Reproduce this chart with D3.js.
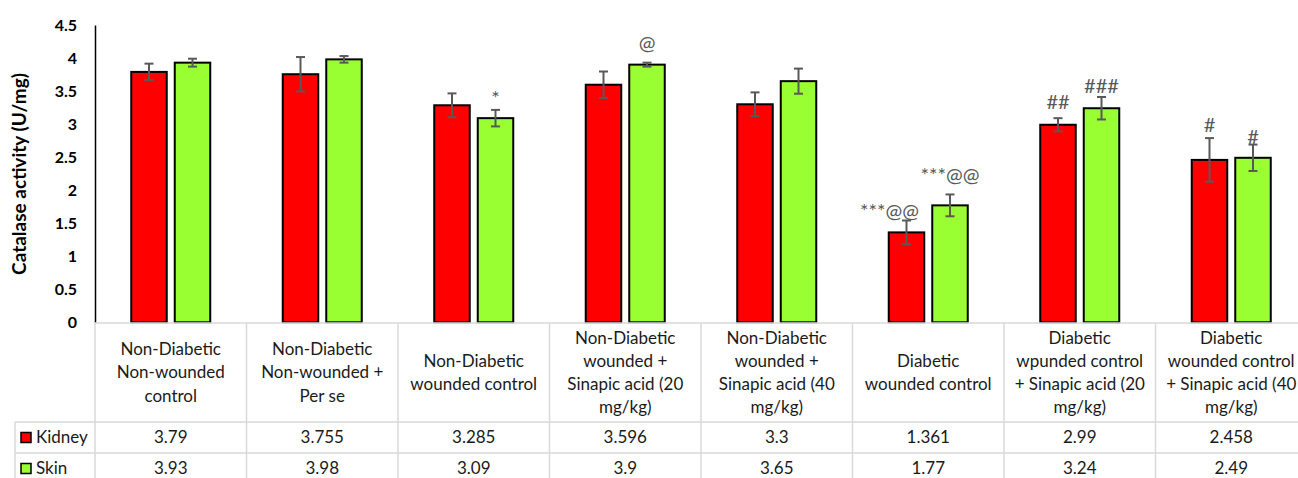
<!DOCTYPE html>
<html>
<head>
<meta charset="utf-8">
<script src="https://cdn.jsdelivr.net/npm/d3@7"></script>
<style>
  html, body { margin: 0; padding: 0; background: #fff; }
  svg { display: block; font-family: Lato, "Open Sans", sans-serif; }
</style>
</head>
<body>
<svg id="chart" width="1298" height="478"></svg>
<script>
// Treatment groups (header lines of the data table)
const categories = [
  ["Non-Diabetic", "Non-wounded", "control"],
  ["Non-Diabetic", "Non-wounded +", "Per se"],
  ["Non-Diabetic", "wounded control"],
  ["Non-Diabetic", "wounded +", "Sinapic acid (20", "mg/kg)"],
  ["Non-Diabetic", "wounded +", "Sinapic acid (40", "mg/kg)"],
  ["Diabetic", "wounded control"],
  ["Diabetic", "wpunded control", "+ Sinapic acid (20", "mg/kg)"],
  ["Diabetic", "wounded control", "+ Sinapic acid (40", "mg/kg)"]
];
const seriesNames = ["Kidney", "Skin"];
const kidney = [3.79, 3.755, 3.285, 3.596, 3.3, 1.361, 2.99, 2.458];
const skin = [3.93, 3.98, 3.09, 3.9, 3.65, 1.77, 3.24, 2.49];
const kidneyErr = [0.125, 0.26, 0.18, 0.2, 0.18, 0.18, 0.1, 0.33];
const skinErr = [0.06, 0.05, 0.125, 0.03, 0.19, 0.165, 0.17, 0.2];
const kidneySig = ["", "", "", "", "", "***@@", "##", "#"];
const skinSig = ["", "", "*", "@", "", "***@@", "###", "#"];
const yTicks = [0, 0.5, 1, 1.5, 2, 2.5, 3, 3.5, 4, 4.5];
const yTitle = "Catalase activity (U/mg)";

// Layout / styling
const colors = { Kidney: "#ff0000", Skin: "#99ff33" };
// small hand placements of the significance marks, [dx, dy] in px
const kidneySigNudge = [[0,0],[0,0],[0,0],[0,0],[0,0],[-17,6],[0,-1],[0,2]];
const skinSigNudge   = [[0,0],[0,0],[0,3],[0,-5],[0,0],[0,-4],[0,4],[0,7]];

const svg = d3.select("#chart");
const W = 1298, H = 478;
const plotLeft = 95, colW = 151.5;
const yTop = 25, yBottom = 322.3;
const gridColor = "#d9d9d9";

svg.append("rect").attr("width", W).attr("height", H).attr("fill", "#fff");

const idx = d3.range(categories.length);
const x = d3.scaleBand().domain(idx).range([plotLeft, plotLeft + colW * categories.length]).padding(0);
const xs = d3.scaleBand().domain(seriesNames).range([0, x.bandwidth()])
  .paddingInner(0.184).paddingOuter(0.833);
const y = d3.scaleLinear().domain([0, 4.5]).range([yBottom, yTop]);

// y axis: line and bold labels, no ticks
const yAxis = d3.axisLeft(y).tickValues(yTicks).tickSize(0).tickPadding(18)
  .tickFormat(d => String(d));
const ya = svg.append("g").attr("transform", `translate(${plotLeft},0)`).call(yAxis);
ya.select(".domain").attr("stroke", "#000").attr("stroke-width", 1.5);
ya.selectAll("text").attr("font-family", "Lato, sans-serif").attr("font-size", 16)
  .attr("font-weight", "bold").attr("fill", "#000");

svg.append("text")
  .attr("transform", `translate(26,174) rotate(-90)`)
  .attr("text-anchor", "middle").attr("font-size", 19).attr("font-weight", "bold")
  .attr("fill", "#000").text(yTitle);

// bars
const series = [
  { name: "Kidney", values: kidney, err: kidneyErr, sig: kidneySig, nudge: kidneySigNudge },
  { name: "Skin", values: skin, err: skinErr, sig: skinSig, nudge: skinSigNudge }
];

series.forEach(s => {
  const g = svg.append("g");
  g.selectAll("rect").data(s.values).join("rect")
    .attr("x", (d, i) => x(i) + xs(s.name))
    .attr("width", xs.bandwidth())
    .attr("y", d => y(d))
    .attr("height", d => y(0) - y(d))
    .attr("fill", colors[s.name])
    .attr("stroke", "#000").attr("stroke-width", 2);
});

// error bars
series.forEach(s => {
  const g = svg.append("g").attr("stroke", "#595959").attr("stroke-width", 2);
  s.values.forEach((v, i) => {
    const cx = x(i) + xs(s.name) + xs.bandwidth() / 2;
    const y1 = y(v + s.err[i]), y2 = y(v - s.err[i]);
    g.append("line").attr("x1", cx).attr("x2", cx).attr("y1", y1).attr("y2", y2);
    g.append("line").attr("x1", cx - 4.5).attr("x2", cx + 4.5).attr("y1", y1).attr("y2", y1);
    g.append("line").attr("x1", cx - 4.5).attr("x2", cx + 4.5).attr("y1", y2).attr("y2", y2);
  });
});

// significance marks
series.forEach(s => {
  s.sig.forEach((t, i) => {
    if (!t) return;
    const cx = x(i) + xs(s.name) + xs.bandwidth() / 2;
    svg.append("text")
      .attr("x", cx + s.nudge[i][0])
      .attr("y", y(s.values[i] + s.err[i]) - 8 + s.nudge[i][1])
      .attr("text-anchor", "middle").attr("font-size", 20).attr("fill", "#595959")
      .text(t);
  });
});

// data table
const rowTop = 323, headerBottom = 422, rowH = 31;
const tableRight = plotLeft + colW * categories.length;
const legendLeft = 15;
const tg = svg.append("g").attr("stroke", gridColor).attr("stroke-width", 1.5);
tg.append("line").attr("x1", plotLeft).attr("x2", tableRight).attr("y1", rowTop).attr("y2", rowTop);
[0, 1].forEach(k => {
  const yy = headerBottom + k * rowH;
  tg.append("line").attr("x1", legendLeft).attr("x2", tableRight).attr("y1", yy).attr("y2", yy);
});
d3.range(categories.length + 1).forEach(i => {
  const xx = plotLeft + i * colW;
  tg.append("line").attr("x1", xx).attr("x2", xx).attr("y1", rowTop).attr("y2", H + 10);
});
tg.append("line").attr("x1", legendLeft).attr("x2", legendLeft).attr("y1", headerBottom).attr("y2", H + 10);

// header text
const lineH = 23.3;
categories.forEach((lines, i) => {
  const cx = x(i) + x.bandwidth() / 2;
  const midY = (rowTop + headerBottom) / 2;
  const t = svg.append("text").attr("text-anchor", "middle").attr("font-size", 17).attr("fill", "#1a1a1a");
  lines.forEach((ln, k) => {
    t.append("tspan").attr("x", cx)
      .attr("y", midY + (k - (lines.length - 1) / 2) * lineH)
      .attr("dy", "0.35em").text(ln);
  });
});

// value rows with legend keys
series.forEach((s, k) => {
  const cy = headerBottom + k * rowH + rowH / 2;
  svg.append("rect").attr("x", 21).attr("y", cy - 5).attr("width", 10).attr("height", 10)
    .attr("fill", colors[s.name]).attr("stroke", "#000").attr("stroke-width", 1.5);
  svg.append("text").attr("x", 36).attr("y", cy).attr("dy", "0.35em")
    .attr("font-size", 17).attr("fill", "#1a1a1a").text(s.name);
  s.values.forEach((v, i) => {
    svg.append("text").attr("x", x(i) + x.bandwidth() / 2).attr("y", cy).attr("dy", "0.35em")
      .attr("text-anchor", "middle").attr("font-size", 17).attr("fill", "#1a1a1a")
      .text(String(v));
  });
});
</script>
</body>
</html>
